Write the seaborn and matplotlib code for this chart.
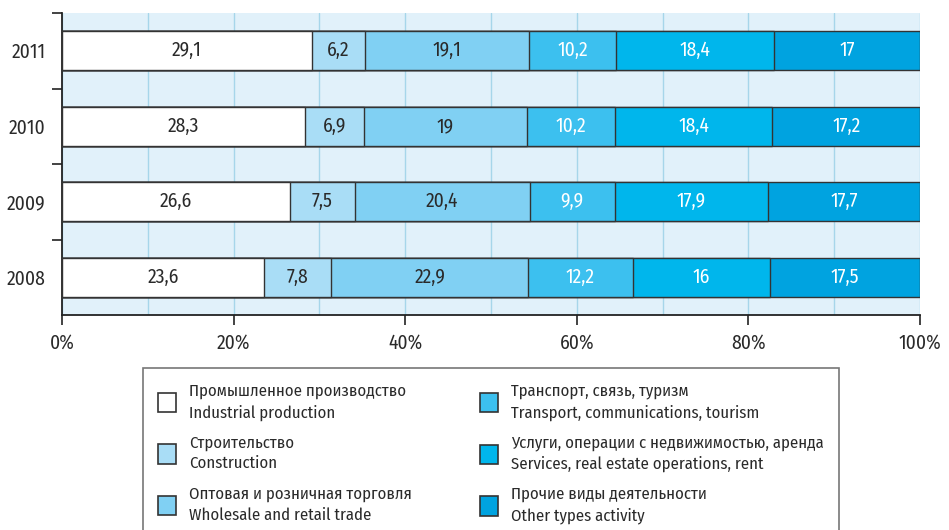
import numpy as np
import pandas as pd
import matplotlib
matplotlib.use("Agg")
import matplotlib.pyplot as plt
from matplotlib.patches import Patch
from matplotlib.ticker import MultipleLocator, FixedLocator
import seaborn as sns

sns.set_theme(style="white")
plt.rcParams['font.family'] = ['Fira Sans Condensed', 'DejaVu Sans']
plt.rcParams['font.stretch'] = 'condensed'

years = ["2011", "2010", "2009", "2008"]
industrial = [29.1, 28.3, 26.6, 23.6]
construction = [6.2, 6.9, 7.5, 7.8]
trade = [19.1, 19.0, 20.4, 22.9]
transport = [10.2, 10.2, 9.9, 12.2]
services = [18.4, 18.4, 17.9, 16.0]
other = [17.0, 17.2, 17.7, 17.5]

labels = [
    "Промышленное производство\nIndustrial production",
    "Строительство\nConstruction",
    "Оптовая и розничная торговля\nWholesale and retail trade",
    "Транспорт, связь, туризм\nTransport, communications, tourism",
    "Услуги, операции с недвижимостью, аренда\nServices, real estate operations, rent",
    "Прочие виды деятельности\nOther types activity",
]
colors = ["#ffffff", "#a9ddf6", "#80d0f3", "#3cc0ef", "#00b6ec", "#00a3e0"]
text_colors = ["#2a2a2a", "#2a2a2a", "#2a2a2a", "white", "white", "white"]

series = [industrial, construction, trade, transport, services, other]
values = np.array(series)
ends = np.cumsum(values, axis=0)
starts = ends - values

fig = plt.figure(figsize=(9.49, 5.30), dpi=100)
ax = fig.add_axes([62 / 949, 1 - 315 / 530, 858 / 949, 302 / 530])
ax.set_facecolor("#e1f1fa")

# draw from the widest cumulative bar down so each segment shows
for i in range(len(series) - 1, -1, -1):
    df = pd.DataFrame({"year": years, "end": ends[i]})
    sns.barplot(data=df, x="end", y="year", order=years, orient="h",
                color=colors[i], saturation=1, width=0.52,
                edgecolor="#333333", linewidth=1.0, ax=ax, zorder=3)

for i in range(len(series)):
    for j in range(len(years)):
        v = values[i, j]
        txt = ("%.1f" % v).replace(".", ",") if v != int(v) else "%d" % v
        ax.text((starts[i, j] + ends[i, j]) / 2, j, txt, ha="center", va="center",
                fontsize=14, color=text_colors[i], zorder=5)

ax.set_xlim(0, 100)
ax.set_ylim(3.5, -0.5)
ax.xaxis.set_major_locator(MultipleLocator(20))
ax.xaxis.set_minor_locator(MultipleLocator(10))
ax.set_xticklabels([f"{int(t)}%" for t in ax.get_xticks()])
ax.grid(axis="x", which="both", color="#a6d6ea", linewidth=1.0, zorder=0)
ax.set_axisbelow(True)
ax.set_xlabel("")
ax.set_ylabel("")

ax.yaxis.set_minor_locator(FixedLocator([-0.5, 0.5, 1.5, 2.5]))
ax.tick_params(axis="y", which="major", length=0, labelsize=14, pad=12, colors="#2a2a2a")
ax.tick_params(axis="y", which="minor", length=7, width=1.2, color="#222222", left=True)
ax.tick_params(axis="x", which="major", length=7, width=1.2, color="#222222",
               bottom=True, labelsize=14, pad=6, labelcolor="#2a2a2a")
ax.tick_params(axis="x", which="minor", length=0)

for s in ["top", "right"]:
    ax.spines[s].set_visible(False)
for s in ["left", "bottom"]:
    ax.spines[s].set_color("#222222")
    ax.spines[s].set_linewidth(1.3)

handles = [Patch(facecolor=c, edgecolor="#333333", linewidth=1.2) for c in colors]
leg = fig.legend(handles, labels,
                 loc="upper left", bbox_to_anchor=(143 / 949, 1 - 368 / 530),
                 ncol=2, frameon=True, fancybox=False, fontsize=12,
                 handlelength=1.1, handleheight=1.4, handletextpad=0.75,
                 columnspacing=4.1, labelspacing=0.85, borderpad=0.9,
                 borderaxespad=0)
leg.get_frame().set_edgecolor("#555555")
leg.get_frame().set_linewidth(1.2)
for t in leg.get_texts():
    t.set_color("#2a2a2a")
    t.set_linespacing(1.4)

fig.savefig("out.png", dpi=100)
